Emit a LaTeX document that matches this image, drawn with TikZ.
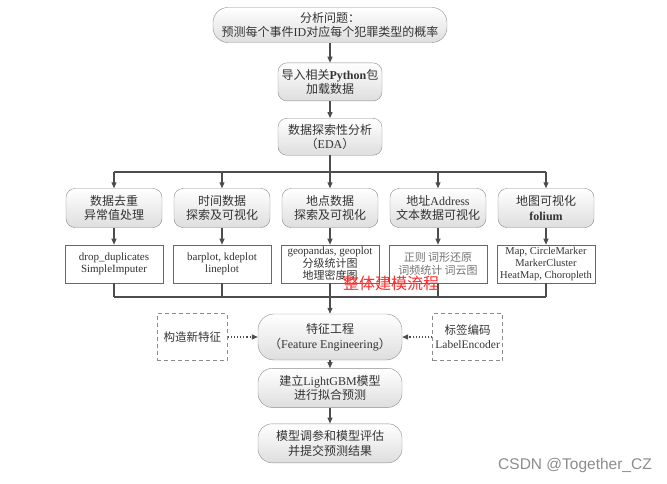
\documentclass[tikz,border=0pt]{standalone}
\usepackage{fontspec}
\setmainfont{Liberation Serif}
\newfontfamily\cjk{Noto Sans CJK SC}
\newfontfamily\wmfont{Liberation Sans}
\newcommand{\zh}[1]{{\cjk #1}}
\usetikzlibrary{arrows.meta, positioning, calc}
\definecolor{linegray}{HTML}{4D4D4D}
\definecolor{boxgray}{HTML}{8C8C8C}
\definecolor{txtgray}{HTML}{333333}
\definecolor{wmred}{HTML}{FF2A2A}

\begin{document}
\begin{tikzpicture}[x=1pt, y=-1pt,
  every node/.style={font=\fontsize{12}{14.5}\selectfont, text=txtgray, align=center},
  box/.style={draw=boxgray, rounded corners=9pt, top color=white, bottom color=black!13,
    minimum width=96pt, minimum height=39pt, inner sep=1pt},
  wbox/.style={box, rounded corners=14pt, minimum width=144pt},
  tool/.style={draw=linegray!85, fill=white, minimum width=98pt, minimum height=38pt,
    inner sep=1pt, font=\fontsize{11}{12.5}\selectfont},
  dbox/.style={draw=boxgray, dash pattern=on 4pt off 3pt, line width=0.9pt, minimum width=70pt,
    minimum height=47pt, inner sep=1pt, font=\fontsize{11.5}{14}\selectfont},
  line/.style={line width=1.1pt, draw=linegray},
  arr/.style={line, -{Triangle[length=6pt, width=5pt]}},
  darr/.style={arr, dotted, line width=1.3pt}
]
  \useasboundingbox (0,0) rectangle (667,484);

  % main column, top
  \node[box, minimum width=234pt, minimum height=35pt, rounded corners=15pt] (task) at (330,25)
    {\zh{分析问题：}\\\zh{预测每个事件}ID\zh{对应每个犯罪类型的概率}};
  \node[box, minimum width=104pt, minimum height=38pt, below=20pt of task] (load)
    {\zh{导入相关}\textbf{Python}\zh{包}\\\zh{加载数据}};
  \node[box, minimum width=104pt, minimum height=37pt, below=17pt of load] (eda)
    {\zh{数据探索性分析}\\\zh{（}EDA\zh{）}};
  \draw[arr] (task) -- (load);
  \draw[arr] (load) -- (eda);

  % EDA branches
  \node[box] (dedup) at (114,208) {\zh{数据去重}\\\zh{异常值处理}};
  \node[box] (timevis) at (222,208) {\zh{时间数据}\\\zh{探索及可视化}};
  \node[box] (placevis) at (330,208) {\zh{地点数据}\\\zh{探索及可视化}};
  \node[box] (addrvis) at (438,208) {\zh{地址}Address\\\zh{文本数据可视化}};
  \node[box] (mapvis) at (546,208) {\zh{地图可视化}\\\textbf{folium}};

  \node[tool, below=17pt of dedup] (dedupt) {drop\_duplicates\\SimpleImputer};
  \node[tool, below=17pt of timevis] (timet) {barplot, kdeplot\\lineplot};
  \node[tool, below=17pt of placevis] (placet) {geopandas, geoplot\\\zh{分级统计图}\\\zh{地理密度图}};
  \node[tool, below=17pt of addrvis, text=black!55] (addrt) {\zh{正则 词形还原}\\\zh{词频统计 词云图}};
  \node[tool, below=17pt of mapvis, font=\fontsize{10.5}{12}\selectfont] (mapt)
    {Map, CircleMarker\\MarkerCluster\\HeatMap, Choropleth};

  \coordinate (top bar) at (330,172);
  \coordinate (low bar) at (330,297);
  \draw[line] (eda) -- (top bar);
  \draw[line] (dedup |- top bar) -- (mapvis |- top bar);
  \foreach \n/\t in {dedup/dedupt, timevis/timet, placevis/placet, addrvis/addrt, mapvis/mapt} {
    \draw[arr] (\n |- top bar) -- (\n);
    \draw[arr] (\n) -- (\t);
    \draw[line] (\t) -- (\t |- low bar);
  }
  \draw[line] (dedupt |- low bar) -- (mapt |- low bar);

  % feature engineering and model
  \node[wbox, minimum height=46pt, rounded corners=16pt] (feat) at (330,337)
    {\zh{特征工程}\\\zh{（}Feature Engineering\zh{）}};
  \node[dbox, left=30pt of feat] (newfeat) {\zh{构造新特征}};
  \node[dbox, right=30pt of feat] (encode) {\zh{标签编码}\\LabelEncoder};
  \node[wbox, below=8pt of feat] (model) {\zh{建立}LightGBM\zh{模型}\\\zh{进行拟合预测}};
  \node[wbox, below=16pt of model] (tune) {\zh{模型调参和模型评估}\\\zh{并提交预测结果}};

  \draw[arr] (low bar) -- (feat);
  \draw[darr] (newfeat) -- (feat);
  \draw[darr] (encode) -- (feat);
  \draw[arr] (feat) -- (model);
  \draw[arr] (model) -- (tune);

  % overlays
  \node[font=\cjk\fontsize{16}{16}\selectfont, text=wmred] (title) at (391,283) {整体建模流程};
  \node[font=\wmfont\fontsize{15.5}{16}\selectfont, text=black!45] (csdn) at (575,465) {CSDN @Together\_CZ};
\end{tikzpicture}
\end{document}
